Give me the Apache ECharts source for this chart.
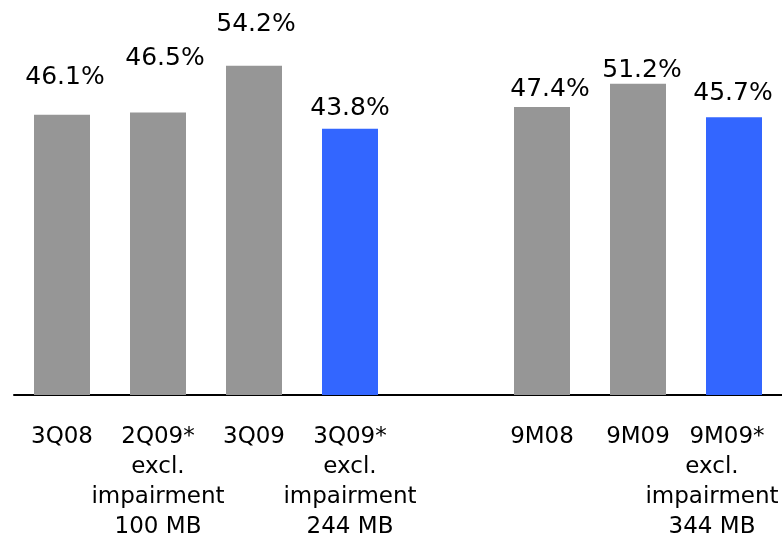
<!DOCTYPE html>
<html>
<head>
<meta charset="utf-8">
<script src="https://cdn.jsdelivr.net/npm/echarts@6/dist/echarts.min.js"></script>
<style>
  html, body { margin: 0; padding: 0; background: #ffffff; }
  #chart { width: 782px; height: 534px; }
</style>
</head>
<body>
<div id="chart"></div>
<script>
// Period headings along the axis (empty slot separates quarters from nine-month figures)
const categories = ['3Q08', '2Q09*', '3Q09', '3Q09*', '', '9M08', '9M09', '9M09*'];
// Extra lines printed under some headings
const notes = ['', 'excl.\nimpairment\n100 MB', '', 'excl.\nimpairment\n244 MB', '', '', '', 'excl.\nimpairment\n344 MB'];
// Ratio per period, in percent
const values = [46.1, 46.5, 54.2, 43.8, null, 47.4, 51.2, 45.7];
// Periods shown excluding impairment are drawn in blue
const adjusted = [false, false, false, true, false, false, false, true];

const GRAY = '#969696';
const BLUE = '#3366ff';
const FONT = '"DejaVu Sans", Verdana, sans-serif';

// Per-bar label nudges [dx, dy]
const labelOffsets = [[3, -25], [7, -41], [2, -29], [0, -8], [0, 0], [8, -5], [4, -1], [-1, -11]];

const chart = echarts.init(document.getElementById('chart'), null, { renderer: 'canvas' });

const axisData = categories.map((c, i) => {
  if (i === categories.length - 1) {
    // last heading sits at the right edge: shift its note block inwards
    return { value: c, textStyle: { padding: [0, 44, 0, 0] } };
  }
  return c;
});

chart.setOption({
  animation: false,
  backgroundColor: '#ffffff',
  grid: { left: 14, right: 0, top: 0, bottom: 139, containLabel: false, outerBoundsMode: 'none' },
  xAxis: {
    type: 'category',
    data: axisData,
    axisLine: { show: true, lineStyle: { color: '#000000', width: 2 } },
    axisTick: { show: false },
    axisLabel: {
      interval: 0,
      margin: 27,
      color: '#000000',
      fontFamily: FONT,
      fontSize: 23,
      formatter: function (value, index) {
        const last = index === categories.length - 1;
        let s = '{' + (last ? 'hr' : 'h') + '|' + value + '}';
        if (notes[index]) {
          s += '\n' + notes[index].split('\n').map(t => '{s|' + t + '}').join('\n');
        }
        return s;
      },
      rich: {
        h: { fontFamily: FONT, fontSize: 23, lineHeight: 30, color: '#000' },
        hr: { fontFamily: FONT, fontSize: 23, lineHeight: 30, color: '#000', padding: [0, 0, 0, 30] },
        s: { fontFamily: FONT, fontSize: 23, lineHeight: 30, color: '#000' }
      }
    }
  },
  yAxis: {
    type: 'value',
    min: 0,
    max: 65,
    show: false,
    splitLine: { show: false }
  },
  series: [{
    type: 'bar',
    barWidth: 56,
    data: values.map((v, i) => ({
      value: v,
      itemStyle: { color: adjusted[i] ? BLUE : GRAY },
      label: { offset: labelOffsets[i] }
    })),
    label: {
      show: true,
      position: 'top',
      distance: 0,
      color: '#000000',
      fontFamily: FONT,
      fontSize: 25,
      formatter: p => p.value.toFixed(1) + '%'
    }
  }]
});
</script>
</body>
</html>
